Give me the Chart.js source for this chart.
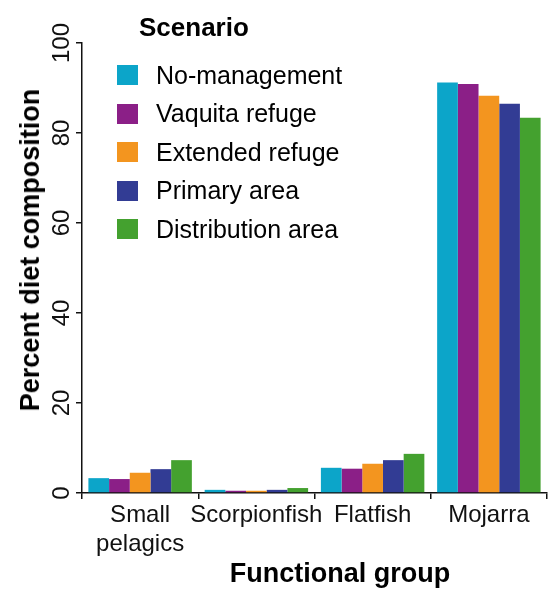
<!DOCTYPE html>
<html>
<head>
<meta charset="utf-8">
<script src="https://cdn.jsdelivr.net/npm/chart.js@4/dist/chart.umd.min.js"></script>
<style>
  body { margin: 0; background: #fff; font-family: "Liberation Sans", Arial, sans-serif; }
  #wrap { position: relative; width: 548px; height: 589px; }
  #legenda { position: absolute; left: 117px; top: 12px; }
  #legenda .titulo { font-weight: bold; font-size: 26px; margin-left: 22px; height: 44px; }
  #legenda .item { height: 38.5px; font-size: 25px; display: flex; align-items: center; }
  #legenda .caixa { width: 21px; height: 20px; margin-right: 18px; }
  .eixo { position: absolute; font-weight: bold; font-size: 27px; white-space: nowrap; line-height: 30px; }
  #tituloY { left: 30px; top: 250px; transform: translate(-50%, -50%) rotate(-90deg); }
  #tituloX { left: 340px; top: 573px; transform: translate(-50%, -50%); }
</style>
</head>
<body>
<div id="wrap">
  <canvas id="grafico" width="548" height="589"></canvas>
  <div id="legenda"></div>
  <div class="eixo" id="tituloY">Percent diet composition</div>
  <div class="eixo" id="tituloX">Functional group</div>
</div>
<script>
// grupos funcionais e cenarios
var grupos = [['Small', 'pelagics'], 'Scorpionfish', 'Flatfish', 'Mojarra'];
var cenarios = ['No-management', 'Vaquita refuge', 'Extended refuge', 'Primary area', 'Distribution area'];
var cores = ['#0ca5c9', '#8b1f87', '#f3951f', '#323c94', '#44a12f'];

// valores por cenario (percentual da dieta)
var semManejo = [3.3, 0.7, 5.6, 91.2];
var refugioVaquita = [3.1, 0.5, 5.4, 90.9];
var refugioExtendido = [4.5, 0.5, 6.5, 88.3];
var areaPrimaria = [5.3, 0.7, 7.3, 86.5];
var areaDistribuicao = [7.3, 1.1, 8.7, 83.4];
var valores = [semManejo, refugioVaquita, refugioExtendido, areaPrimaria, areaDistribuicao];

var ticksY = [0, 20, 40, 60, 80, 100];

var datasets = [];
for (var i = 0; i < cenarios.length; i++) {
  datasets.push({
    label: cenarios[i],
    data: valores[i],
    backgroundColor: cores[i],
    borderWidth: 0,
    categoryPercentage: 0.89,
    barPercentage: 1
  });
}

// legenda em html
var leg = document.getElementById('legenda');
var html = '<div class="titulo">Scenario</div>';
for (var i = 0; i < cenarios.length; i++) {
  html += '<div class="item"><span class="caixa" style="background:' + cores[i] + '"></span>' + cenarios[i] + '</div>';
}
leg.innerHTML = html;

var fonte = { family: '"Liberation Sans", Arial, sans-serif', size: 24 };

var ctx = document.getElementById('grafico').getContext('2d');
var grafico = new Chart(ctx, {
  type: 'bar',
  data: {
    labels: grupos,
    datasets: datasets
  },
  options: {
    responsive: false,
    animation: false,
    layout: { padding: { top: 43, right: 1, left: 0, bottom: 0 } },
    plugins: { legend: { display: false }, tooltip: { enabled: false } },
    scales: {
      x: {
        grid: { drawOnChartArea: false, drawTicks: true, tickLength: 6, color: '#111', lineWidth: 1.5, offset: true },
        border: { color: '#111', width: 1.5 },
        ticks: { color: '#111', font: fonte, padding: 2, maxRotation: 0, autoSkip: false },
        afterFit: function (s) { s.height = 96; }
      },
      y: {
        min: 0,
        max: 100,
        afterBuildTicks: function (s) { s.ticks = ticksY.map(function (v) { return { value: v }; }); },
        grid: { drawOnChartArea: false, drawTicks: true, tickLength: 6, color: '#111', lineWidth: 1.5 },
        border: { color: '#111', width: 1.5 },
        ticks: { color: '#111', font: fonte, minRotation: 90, maxRotation: 90, crossAlign: 'center', padding: -6 },
        afterFit: function (s) { s.width = 82; }
      }
    }
  }
});
</script>
</body>
</html>
